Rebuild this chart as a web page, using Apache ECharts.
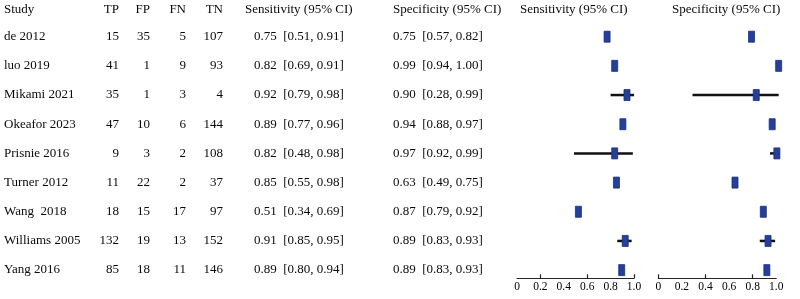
<!DOCTYPE html>
<html>
<head>
<meta charset="utf-8">
<script src="https://cdn.jsdelivr.net/npm/echarts@6/dist/echarts.min.js"></script>
<style>
html,body{margin:0;padding:0;background:#fff}
#main{width:800px;height:299px}
</style>
</head>
<body>
<div id="main"></div>
<script>
// table columns
var studies = ['de 2012', 'luo 2019', 'Mikami 2021', 'Okeafor 2023', 'Prisnie 2016', 'Turner 2012', 'Wang  2018', 'Williams 2005', 'Yang 2016'];
var tp = [15, 41, 35, 47, 9, 11, 18, 132, 85];
var fp = [35, 1, 1, 10, 3, 22, 15, 19, 18];
var fn = [5, 9, 3, 6, 2, 2, 17, 13, 11];
var tn = [107, 93, 4, 144, 108, 37, 97, 152, 146];
var sens = [0.75, 0.82, 0.92, 0.89, 0.82, 0.85, 0.51, 0.91, 0.89];
var sensLoCI = [0.51, 0.69, 0.79, 0.77, 0.48, 0.55, 0.34, 0.85, 0.80];
var sensHiCI = [0.91, 0.91, 0.98, 0.96, 0.98, 0.98, 0.69, 0.95, 0.94];
var spec = [0.75, 0.99, 0.90, 0.94, 0.97, 0.63, 0.87, 0.89, 0.89];
var specLoCI = [0.57, 0.94, 0.28, 0.88, 0.92, 0.49, 0.79, 0.83, 0.83];
var specHiCI = [0.82, 1.00, 0.99, 0.97, 0.99, 0.75, 0.92, 0.93, 0.93];
var headers = ['Study', 'TP', 'FP', 'FN', 'TN', 'Sensitivity (95% CI)', 'Specificity (95% CI)', 'Sensitivity (95% CI)', 'Specificity (95% CI)'];

// what the forest panels actually show
var sensPt = [0.77, 0.835, 0.94, 0.905, 0.835, 0.85, 0.525, 0.925, 0.895];
var sensLo = [null, null, 0.80, null, 0.487, null, null, 0.857, null];
var sensHi = [null, null, 1.0, null, 0.99, null, null, 0.98, null];
var specPt = [0.79, 1.02, 0.83, 0.965, 1.005, 0.65, 0.89, 0.93, 0.92];
var specLo = [null, null, 0.29, null, 0.947, null, null, 0.86, null];
var specHi = [null, null, 1.02, null, 1.03, null, null, 0.99, null];
var sensTicks = [0.2, 0.6, 1.0];
var specTicks = [0, 0.4, 0.8];

var FONT = '"Liberation Serif", "DejaVu Serif", serif';
var TXT = '#0a0a0a';

function ci(est, lo, hi) {
    return est.map(function (v, i) {
        return v.toFixed(2) + '  [' + lo[i].toFixed(2) + ', ' + hi[i].toFixed(2) + ']';
    });
}

var rowTop = 22.1, rowH = 262.5;
// column: [values, x, align]
var columns = [
    [studies, 4, 'left'],
    [tp, 119, 'right'],
    [fp, 150, 'right'],
    [fn, 186, 'right'],
    [tn, 223, 'right'],
    [ci(sens, sensLoCI, sensHiCI), 254, 'left'],
    [ci(spec, specLoCI, specHiCI), 393, 'left']
];

var grid = [], xAxis = [], yAxis = [], series = [];
columns.forEach(function (c, k) {
    grid.push({left: c[1], top: rowTop, width: 1, height: rowH});
    xAxis.push({gridIndex: k, show: false});
    yAxis.push({
        gridIndex: k, type: 'category', inverse: true,
        data: c[0].map(String),
        axisLine: {show: false}, axisTick: {show: false}, splitLine: {show: false},
        axisLabel: {interval: 0, margin: 0, align: c[2], fontFamily: FONT, fontSize: 13, color: TXT}
    });
});

// forest panels
function forestItem(params, api) {
    var y = api.value(3);
    var p = api.coord([api.value(0), y]);
    var kids = [];
    var lo = api.value(1), hi = api.value(2);
    if (!isNaN(lo) && !isNaN(hi)) {
        var a = api.coord([lo, y]), b = api.coord([hi, y]);
        kids.push({type: 'line', shape: {x1: a[0], y1: a[1], x2: b[0], y2: b[1]},
            style: {stroke: '#111', lineWidth: 2.5}});
    }
    kids.push({type: 'rect', shape: {x: p[0] - 3, y: p[1] - 5.5, width: 6, height: 11},
        style: {fill: '#24409a', stroke: '#1a2f78', lineWidth: 0.8}});
    return {type: 'group', children: kids};
}

function panel(pt, lo, hi, ticks, left, width) {
    var k = grid.length;
    grid.push({left: left, top: rowTop, width: width, height: 256.2});
    xAxis.push({
        gridIndex: k, type: 'value', position: 'bottom', min: 0, max: 1, interval: 0.2,
        axisLine: {show: true, onZero: false, lineStyle: {color: '#222', width: 1}},
        axisTick: {show: true, inside: true, length: 4, customValues: ticks, lineStyle: {color: '#222', width: 1.2}},
        splitLine: {show: false},
        axisLabel: {margin: 3, fontFamily: FONT, fontSize: 11.5, color: '#000', showMinLabel: true, showMaxLabel: true,
            formatter: function (v) { return v === 0 ? '0' : v.toFixed(1); }}
    });
    yAxis.push({gridIndex: k, type: 'value', min: -0.5, max: 8.28, inverse: true, show: false});
    series.push({
        type: 'custom', xAxisIndex: k, yAxisIndex: k, clip: false,
        renderItem: forestItem,
        encode: {x: [0, 1, 2], y: 3},
        data: pt.map(function (v, i) {
            return [v, lo[i] == null ? '-' : lo[i], hi[i] == null ? '-' : hi[i], i];
        })
    });
}
panel(sensPt, sensLo, sensHi, sensTicks, 517, 117);
panel(specPt, specLo, specHi, specTicks, 658.3, 118);

// header texts
var headPos = [['left', 4], ['right', 681], ['right', 650], ['right', 614], ['right', 577],
    ['left', 245], ['left', 393], ['left', 520], ['left', 672]];
var title = headers.map(function (h, i) {
    var t = {text: h, top: 3, padding: 0, textStyle: {fontFamily: FONT, fontSize: 13, fontWeight: 'normal', color: TXT}};
    t[headPos[i][0]] = headPos[i][1];
    return t;
});

var myChart = echarts.init(document.getElementById('main'));
myChart.setOption({
    backgroundColor: '#fff',
    animation: false,
    title: title,
    grid: grid,
    xAxis: xAxis,
    yAxis: yAxis,
    series: series
});
</script>
</body>
</html>
